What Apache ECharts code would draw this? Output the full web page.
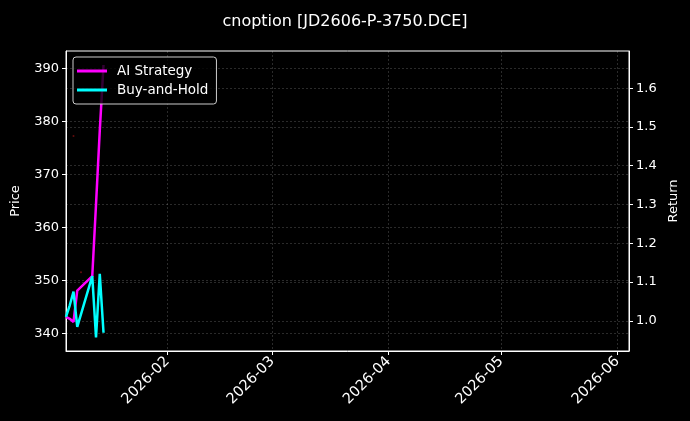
<!DOCTYPE html>
<html>
<head>
<meta charset="utf-8">
<script src="https://cdn.jsdelivr.net/npm/echarts@6/dist/echarts.min.js"></script>
<style>
html,body{margin:0;padding:0;background:#000;}
#chart{width:690px;height:421px;}
</style>
</head>
<body>
<div id="chart"></div>
<script>
// ---- data ----
const dates = ['2026-01-05','2026-01-06','2026-01-07','2026-01-08','2026-01-12','2026-01-13','2026-01-14','2026-01-15'];
const aiStrategy = [1.010, 1.005, 0.997, 1.078, 1.115, 1.300, 1.490, 1.660];
const buyHold    = [1.010, 1.040, 1.075, 0.984, 1.115, 0.957, 1.121, 0.969];
const priceDates  = ['2026-01-07','2026-01-09'];
const priceValues = [377.2, 351.5];
const monthTicks  = ['2026-02-01','2026-03-01','2026-04-01','2026-05-01','2026-06-01'];
const priceTicks  = [340, 350, 360, 370, 380, 390];
const returnTicks = [1.0, 1.1, 1.2, 1.3, 1.4, 1.5, 1.6];

function ts(s){ const p = s.split('-').map(Number); return new Date(p[0], p[1]-1, p[2]).getTime(); }
function pad(n){ return (n<10?'0':'')+n; }

const font = 'DejaVu Sans';
const gridLine = {show:true, lineStyle:{color:'rgba(255,255,255,0.28)', type:[2,2], width:0.6}};

const chart = echarts.init(document.getElementById('chart'), null, {renderer:'canvas'});
chart.setOption({
  backgroundColor:'#000',
  animation:false,
  title:{
    text:'cnoption [JD2606-P-3750.DCE]',
    left:'center', top:9,
    textStyle:{color:'#fff', fontSize:16, fontWeight:'normal', fontFamily:font}
  },
  legend:{
    orient:'vertical', left:73, top:57,
    padding:[7,8,7,4], itemGap:5,
    itemWidth:30, itemHeight:3, icon:'rect',
    backgroundColor:'rgba(0,0,0,0.8)', borderColor:'#cccccc', borderWidth:1, borderRadius:3,
    textStyle:{color:'#fff', fontSize:13.5, fontFamily:font, padding:[0,0,0,5]},
    data:['AI Strategy','Buy-and-Hold']
  },
  grid:{left:66, right:61, top:51, bottom:70, show:true, borderColor:'#fff', borderWidth:1, backgroundColor:'#000'},
  xAxis:{
    type:'value',
    min: ts('2026-01-05'),
    max: ts('2026-06-04') + 2*3600*1000,
    axisLine:{show:true, lineStyle:{color:'#fff'}},
    axisTick:{show:true, length:4, lineStyle:{color:'#fff'}, customValues: monthTicks.map(ts)},
    axisLabel:{
      color:'#fff', fontSize:14.5, fontFamily:font, rotate:45, margin:8,
      customValues: monthTicks.map(ts),
      formatter:function(v){ const d=new Date(v); return d.getFullYear()+'-'+pad(d.getMonth()+1); }
    },
    splitLine:gridLine
  },
  yAxis:[{
    type:'value', position:'left',
    min:336.66, max:393.26,
    name:'Price', nameLocation:'middle', nameGap:44, nameRotate:90,
    nameTextStyle:{color:'#fff', fontSize:13, fontFamily:font},
    axisLine:{show:true, lineStyle:{color:'#fff'}},
    axisTick:{show:true, length:4, lineStyle:{color:'#fff'}, customValues:priceTicks},
    axisLabel:{color:'#fff', fontSize:13, fontFamily:font, margin:7, customValues:priceTicks},
    splitLine:gridLine
  },{
    type:'value', position:'right',
    min:0.922, max:1.696,
    name:'Return', nameLocation:'middle', nameGap:38, nameRotate:90,
    nameTextStyle:{color:'#fff', fontSize:13, fontFamily:font},
    axisLine:{show:true, lineStyle:{color:'#fff'}},
    axisTick:{show:true, length:4, lineStyle:{color:'#fff'}, customValues:returnTicks},
    axisLabel:{color:'#fff', fontSize:13, fontFamily:font, margin:7, customValues:returnTicks,
      formatter:function(v){ return v.toFixed(1); }},
    splitLine:gridLine
  }],
  series:[{
    name:'Price', type:'scatter', yAxisIndex:0,
    symbolSize:2, itemStyle:{color:'#7a1010'},
    data: priceDates.map((d,i)=>[ts(d), priceValues[i]]),
    z:1
  },{
    name:'AI Strategy', type:'line', yAxisIndex:1,
    showSymbol:false, symbol:'none',
    lineStyle:{color:'#ff00ff', width:2.5}, itemStyle:{color:'#ff00ff'},
    data: dates.map((d,i)=>[ts(d), aiStrategy[i]]),
    z:3
  },{
    name:'Buy-and-Hold', type:'line', yAxisIndex:1,
    showSymbol:false, symbol:'none',
    lineStyle:{color:'#00ffff', width:2.5}, itemStyle:{color:'#00ffff'},
    data: dates.map((d,i)=>[ts(d), buyHold[i]]),
    z:4
  }]
});
</script>
</body>
</html>
